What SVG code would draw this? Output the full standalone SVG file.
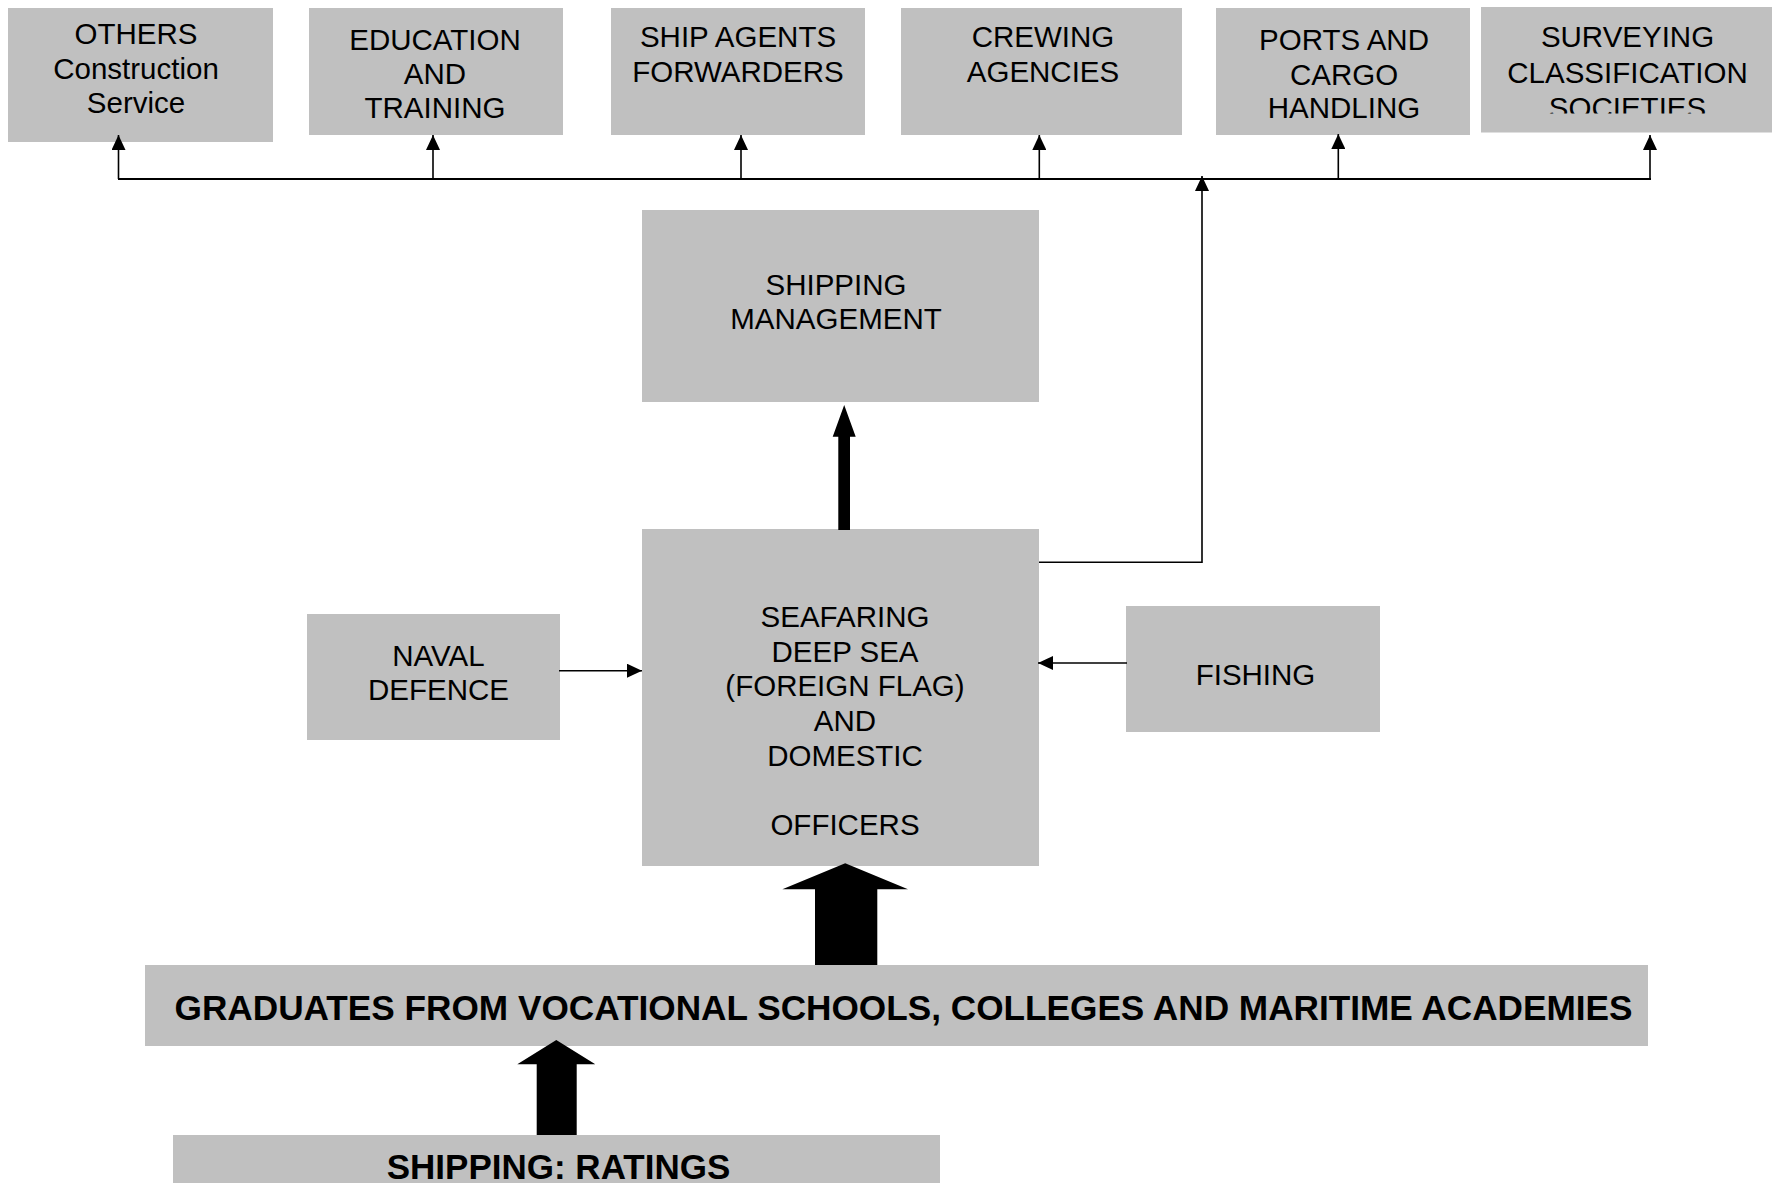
<svg xmlns="http://www.w3.org/2000/svg" width="1777" height="1183" viewBox="0 0 1777 1183">
<style>
.box{fill:#c0c0c0;stroke:none}
.t{font-family:"Liberation Sans",Arial,sans-serif;font-size:29.5px;fill:#000;text-anchor:middle}
.b{font-family:"Liberation Sans",Arial,sans-serif;font-size:35px;font-weight:bold;fill:#000;text-anchor:middle}
.ln{stroke:#000;stroke-width:1.6;fill:none}
.bus{stroke:#000;stroke-width:2.2;fill:none}
.big{fill:#000;stroke:none}
</style>
<defs>
<marker id="ah" markerUnits="userSpaceOnUse" markerWidth="16" markerHeight="14" refX="15" refY="7" orient="auto">
<path d="M0,0 L15,7 L0,14 z" fill="#000"/>
</marker>
<clipPath id="clipSurv"><rect x="1481" y="7" width="291" height="106.5"/></clipPath>
</defs>
<rect width="1777" height="1183" fill="#fff"/>

<g id="others">
<rect class="box" x="8" y="8" width="265" height="134"/>
<text class="t" x="136" y="44">OTHERS</text>
<text class="t" x="136" y="78.5">Construction</text>
<text class="t" x="136" y="112.5">Service</text>
</g>
<g id="education">
<rect class="box" x="309" y="8" width="254" height="127"/>
<text class="t" x="435" y="50">EDUCATION</text>
<text class="t" x="435" y="84">AND</text>
<text class="t" x="435" y="118.3">TRAINING</text>
</g>
<g id="shipagents">
<rect class="box" x="611" y="8" width="254" height="127"/>
<text class="t" x="738" y="46.7">SHIP AGENTS</text>
<text class="t" x="738" y="81.5">FORWARDERS</text>
</g>
<g id="crewing">
<rect class="box" x="901" y="8" width="281" height="127"/>
<text class="t" x="1043" y="46.7">CREWING</text>
<text class="t" x="1043" y="81.5">AGENCIES</text>
</g>
<g id="ports">
<rect class="box" x="1216" y="8" width="254" height="127"/>
<text class="t" x="1344" y="50">PORTS AND</text>
<text class="t" x="1344" y="85">CARGO</text>
<text class="t" x="1344" y="118.3">HANDLING</text>
</g>
<g id="surveying">
<rect class="box" x="1481" y="7" width="291" height="125.5"/>
<g clip-path="url(#clipSurv)">
<text class="t" x="1627.5" y="46.7">SURVEYING</text>
<text class="t" x="1627.5" y="82.5">CLASSIFICATION</text>
<text class="t" x="1627.5" y="118">SOCIETIES</text>
</g>
</g>
<g id="shippingmgmt">
<rect class="box" x="642" y="210" width="397" height="192"/>
<text class="t" x="836" y="294.5">SHIPPING</text>
<text class="t" x="836" y="329">MANAGEMENT</text>
</g>
<g id="seafaring">
<rect class="box" x="642" y="529" width="397" height="337"/>
<text class="t" x="845" y="627.3">SEAFARING</text>
<text class="t" x="845" y="662">DEEP SEA</text>
<text class="t" x="845" y="696">(FOREIGN FLAG)</text>
<text class="t" x="845" y="731">AND</text>
<text class="t" x="845" y="766">DOMESTIC</text>
<text class="t" x="845" y="835">OFFICERS</text>
</g>
<g id="naval">
<rect class="box" x="307" y="614" width="253" height="126"/>
<text class="t" x="438.5" y="666">NAVAL</text>
<text class="t" x="438.5" y="700">DEFENCE</text>
</g>
<g id="fishing">
<rect class="box" x="1126" y="606" width="254" height="126"/>
<text class="t" x="1255.5" y="685">FISHING</text>
</g>
<g id="graduates">
<rect class="box" x="145" y="965" width="1503" height="81"/>
<text class="b" x="903.5" y="1020" textLength="1458" lengthAdjust="spacingAndGlyphs">GRADUATES FROM VOCATIONAL SCHOOLS, COLLEGES AND MARITIME ACADEMIES</text>
</g>
<g id="ratings">
<rect class="box" x="173" y="1135" width="767" height="60"/>
<text class="b" x="558.5" y="1179">SHIPPING: RATINGS</text>
</g>

<g id="connectors">
<line class="bus" x1="118" y1="179" x2="1651" y2="179"/>
<line class="ln" x1="118.5" y1="179" x2="118.5" y2="135" marker-end="url(#ah)"/>
<line class="ln" x1="433" y1="179" x2="433" y2="135" marker-end="url(#ah)"/>
<line class="ln" x1="741" y1="179" x2="741" y2="135" marker-end="url(#ah)"/>
<line class="ln" x1="1039.3" y1="179" x2="1039.3" y2="135" marker-end="url(#ah)"/>
<line class="ln" x1="1338.3" y1="179" x2="1338.3" y2="134" marker-end="url(#ah)"/>
<line class="ln" x1="1650" y1="179" x2="1650" y2="135" marker-end="url(#ah)"/>
<polyline class="ln" points="1039,562.3 1202,562.3 1202,176" marker-end="url(#ah)"/>
<line class="ln" x1="559" y1="670.7" x2="642" y2="670.7" marker-end="url(#ah)"/>
<line class="ln" x1="1127" y1="663" x2="1038" y2="663" marker-end="url(#ah)"/>
<polygon class="big" points="838.3,530 838.3,436.7 832.7,436.7 844.2,405 855.7,436.7 850,436.7 850,530"/>
<polygon class="big" points="815,965 815,889.3 782.4,889.3 845.2,863.3 908,889.3 877.3,889.3 877.3,965"/>
<polygon class="big" points="536.7,1135 536.7,1064.3 517.3,1064.3 556.3,1040 595.3,1064.3 576.7,1064.3 576.7,1135"/>
</g>
</svg>
